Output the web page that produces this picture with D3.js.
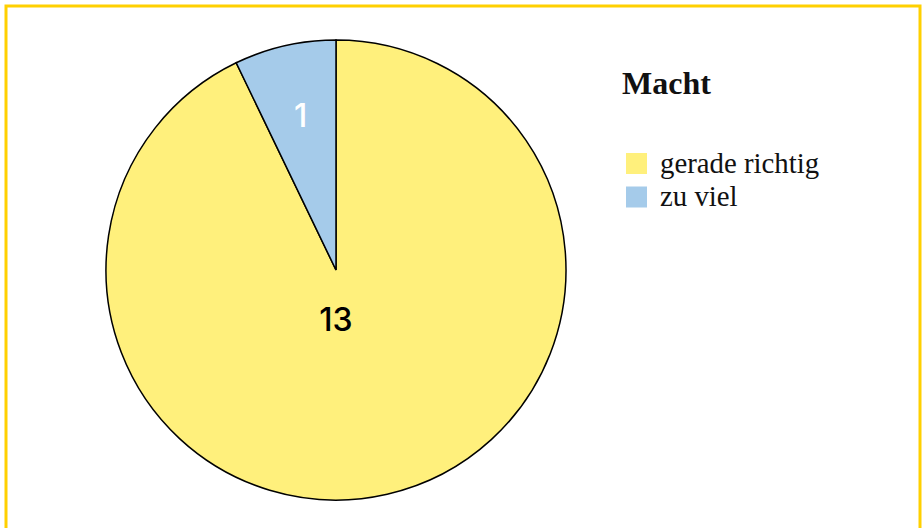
<!DOCTYPE html>
<html>
<head>
  <meta charset="utf-8">
  <script src="https://d3js.org/d3.v7.min.js"></script>
  <style>
    body { margin: 0; background: #fff; }
    svg { display: block; }
  </style>
</head>
<body>
  <script>
    // data
    var title = "Macht";
    var categories = ["gerade richtig", "zu viel"];
    var counts = [13, 1];
    var colors = ["#fff07c", "#a5cbea"];
    var labelColors = ["#000", "#fff"];

    var width = 923, height = 528;
    var cx = 336, cy = 270, radius = 230;

    var svg = d3.select("body").append("svg")
      .attr("width", width)
      .attr("height", height);

    // yellow frame (bottom edge runs off the page)
    svg.append("rect")
      .attr("x", 6).attr("y", 6)
      .attr("width", 914).attr("height", 560)
      .attr("fill", "none")
      .attr("stroke", "#ffd000")
      .attr("stroke-width", 3);

    var data = categories.map(function(c, i) {
      return {name: c, value: counts[i], color: colors[i], label: labelColors[i]};
    });

    var pie = d3.pie().sort(null).value(function(d) { return d.value; });
    var arc = d3.arc().innerRadius(0).outerRadius(radius);
    var labelArc = d3.arc().innerRadius(radius * 0.69).outerRadius(radius * 0.69);

    var g = svg.append("g").attr("transform", "translate(" + cx + "," + cy + ")");
    var arcs = pie(data);

    g.selectAll("path")
      .data(arcs)
      .enter().append("path")
      .attr("d", arc)
      .attr("fill", function(d) { return d.data.color; })
      .attr("stroke", "#000")
      .attr("stroke-width", 1.5);

    g.selectAll("text")
      .data(arcs)
      .enter().append("text")
      .attr("transform", function(d) {
        // big slice: label sits just below the centre
        if (d.endAngle - d.startAngle > Math.PI) return "translate(0," + (radius * 0.217) + ")";
        return "translate(" + labelArc.centroid(d) + ")";
      })
      .attr("text-anchor", "middle")
      .attr("dy", "0.36em")
      .attr("font-family", "Inter, 'Open Sans', sans-serif")
      .attr("font-weight", 500)
      .attr("font-size", 32)
      .attr("fill", function(d) { return d.data.label; })
      .text(function(d) { return d.data.value; });

    // legend
    var legend = svg.append("g").attr("transform", "translate(622,0)");
    legend.append("text")
      .attr("x", 0).attr("y", 94)
      .attr("font-family", "'Liberation Serif', serif")
      .attr("font-weight", "bold")
      .attr("font-size", 32)
      .attr("fill", "#111")
      .text(title);

    var items = legend.selectAll("g.item")
      .data(data)
      .enter().append("g")
      .attr("class", "item")
      .attr("transform", function(d, i) { return "translate(4," + (153 + i * 33.5) + ")"; });

    items.append("rect")
      .attr("width", 21).attr("height", 21)
      .attr("fill", function(d) { return d.color; });

    items.append("text")
      .attr("x", 34).attr("y", 19.5)
      .attr("font-family", "'Liberation Serif', serif")
      .attr("font-size", 28.8)
      .attr("fill", "#111")
      .text(function(d) { return d.name; });
  </script>
</body>
</html>
